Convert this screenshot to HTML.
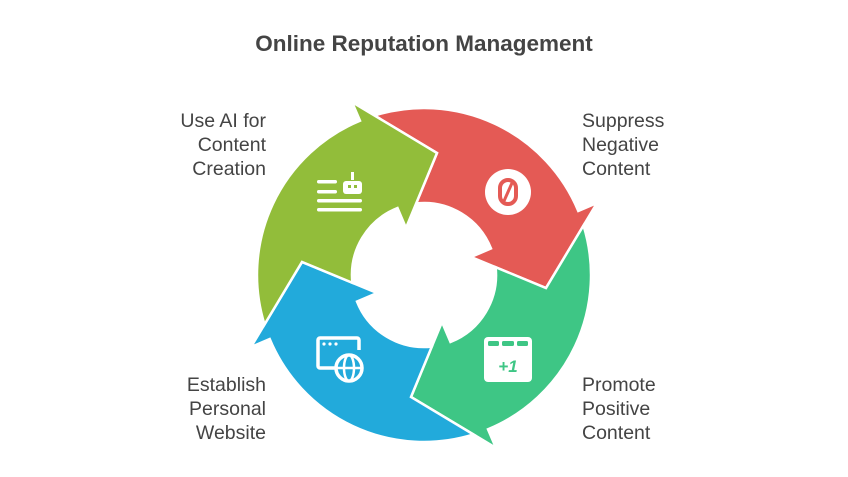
<!DOCTYPE html>
<html><head><meta charset="utf-8"><style>
html,body{margin:0;padding:0;background:#fff;}
body{width:848px;height:477px;overflow:hidden;position:relative;font-family:"Liberation Sans",sans-serif;}
</style></head><body>
<svg width="848" height="477" viewBox="0 0 848 477" xmlns="http://www.w3.org/2000/svg" style="position:absolute;left:0;top:0">
<text x="424" y="51" text-anchor="middle" font-family="Liberation Sans, sans-serif" font-weight="bold" font-size="22.5" fill="#444">Online Reputation Management</text>
<defs>
<path id="seg" d="M374.5,115.5 A167,167 0 0 1 578.3,211 L597,203 L546,288 L471,257 L491,248.5 A72,72 0 0 0 416.2,203.4 L437,153 Z" stroke="#fff" stroke-width="2.5" stroke-linejoin="miter"/>
</defs>
<use href="#seg" fill="#E45A55"/>
<use href="#seg" fill="#3EC685" transform="rotate(90 424 275)"/>
<use href="#seg" fill="#22AADB" transform="rotate(180 424 275)"/>
<use href="#seg" fill="#92BD3A" transform="rotate(270 424 275)"/>
<!-- red icon -->
<circle cx="508" cy="192" r="23" fill="#fff"/>
<rect x="500" y="180" width="16" height="24" rx="8" fill="none" stroke="#E45A55" stroke-width="4"/>
<line x1="512" y1="183" x2="504" y2="201" stroke="#E45A55" stroke-width="3"/>
<!-- green icon -->
<g fill="#fff">
<rect x="317" y="180" width="20" height="3.5" rx="1.7"/>
<rect x="317" y="190" width="20" height="3.5" rx="1.7"/>
<rect x="317" y="199" width="45" height="3.5" rx="1.7"/>
<rect x="317" y="208" width="45" height="3.5" rx="1.7"/>
<rect x="343" y="181" width="19" height="13" rx="3"/>
<rect x="351" y="172" width="3" height="8"/>
</g>
<rect x="348" y="185" width="3" height="3" fill="#92BD3A"/><rect x="354" y="185" width="3" height="3" fill="#92BD3A"/>
<!-- blue icon -->
<g fill="none" stroke="#fff" stroke-width="3.5">
<path d="M335,368 H320 a2,2 0 0 1 -2,-2 V340 a2,2 0 0 1 2,-2 H357 a2,2 0 0 1 2,2 V350"/>
<circle cx="349" cy="368" r="13"/>
<ellipse cx="349" cy="368" rx="5" ry="13" stroke-width="2.5"/>
<line x1="336" y1="368" x2="362" y2="368" stroke-width="2.5"/>
</g>
<g fill="#fff"><circle cx="324" cy="344" r="1.6"/><circle cx="330" cy="344" r="1.6"/><circle cx="336" cy="344" r="1.6"/></g>
<!-- teal icon -->
<rect x="484" y="337" width="48" height="45" rx="4" fill="#fff"/>
<g fill="#3EC685"><rect x="488" y="341" width="11" height="5" rx="1.5"/><rect x="502" y="341" width="12" height="5" rx="1.5"/><rect x="517" y="341" width="11" height="5" rx="1.5"/></g>
<text x="508" y="372" text-anchor="middle" font-family="Liberation Sans, sans-serif" font-weight="bold" font-style="italic" font-size="17" fill="#3EC685">+1</text>
<g font-family="Liberation Sans, sans-serif" font-size="19.5" fill="#444">
<text x="266" y="127" text-anchor="end">Use AI for</text>
<text x="266" y="151" text-anchor="end">Content</text>
<text x="266" y="175" text-anchor="end">Creation</text>
<text x="582" y="127">Suppress</text>
<text x="582" y="151">Negative</text>
<text x="582" y="175">Content</text>
<text x="266" y="391" text-anchor="end">Establish</text>
<text x="266" y="415" text-anchor="end">Personal</text>
<text x="266" y="439" text-anchor="end">Website</text>
<text x="582" y="391">Promote</text>
<text x="582" y="415">Positive</text>
<text x="582" y="439">Content</text>
</g>
</svg>
</body></html>
